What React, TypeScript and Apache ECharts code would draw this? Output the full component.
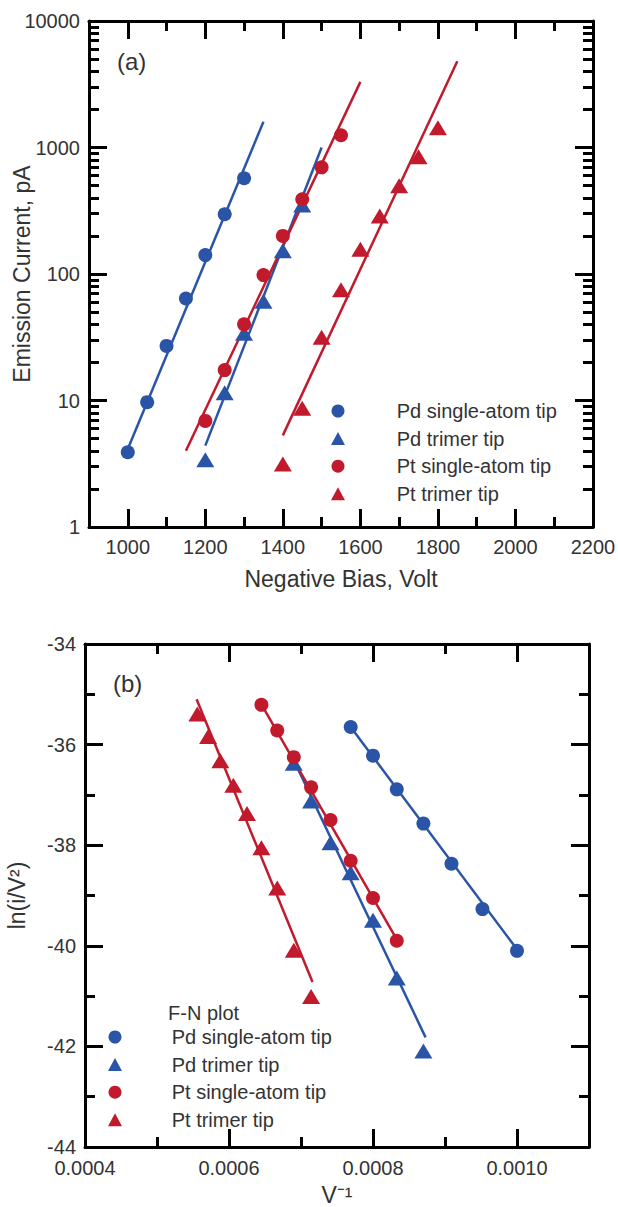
import React, { useEffect, useRef } from 'react';
import * as echarts from 'echarts';

// ---------- Panel (a): emission current vs. negative bias ----------
const pdSingleBias = [1000, 1050, 1100, 1150, 1200, 1250, 1300];
const pdSingleCurrent = [3.9, 9.7, 27, 64, 141, 297, 571];
const pdTrimerBias = [1200, 1250, 1300, 1350, 1400, 1450];
const pdTrimerCurrent = [3.4, 11.5, 34, 61, 153, 351];
const ptSingleBias = [1200, 1250, 1300, 1350, 1400, 1450, 1500, 1550];
const ptSingleCurrent = [6.9, 17.4, 40, 98, 200, 389, 697, 1250];
const ptTrimerBias = [1400, 1450, 1500, 1550, 1600, 1650, 1700, 1750, 1800];
const ptTrimerCurrent = [3.15, 8.7, 31.6, 75, 157, 287, 499, 846, 1435];

// fitted lines (end points)
const pdSingleFitBias = [995, 1350];
const pdSingleFitCurrent = [3.8, 1600];
const pdTrimerFitBias = [1200, 1500];
const pdTrimerFitCurrent = [4.4, 1000];
const ptSingleFitBias = [1150, 1600];
const ptSingleFitCurrent = [4.0, 3300];
const ptTrimerFitBias = [1400, 1850];
const ptTrimerFitCurrent = [5.3, 4800];

const biasMajorTicks = [1000, 1200, 1400, 1600, 1800, 2000, 2200];
const biasMinorTicks = [1100, 1300, 1500, 1700, 1900, 2100];
const currentMajorTicks = [1, 10, 100, 1000, 10000];
const currentMinorTicks = [
  2, 3, 4, 5, 6, 7, 8, 9,
  20, 30, 40, 50, 60, 70, 80, 90,
  200, 300, 400, 500, 600, 700, 800, 900,
  2000, 3000, 4000, 5000, 6000, 7000, 8000, 9000,
];

// ---------- Panel (b): Fowler-Nordheim plot ----------
const pdSingleInvV = [0.000769, 0.0008, 0.000833, 0.00087, 0.000909, 0.000952, 0.001];
const pdSingleFN = [-35.65, -36.22, -36.89, -37.57, -38.37, -39.27, -40.1];
const pdTrimerInvV = [0.00069, 0.000714, 0.000741, 0.000769, 0.0008, 0.000833, 0.00087];
const pdTrimerFN = [-36.37, -37.12, -37.95, -38.55, -39.49, -40.64, -42.09];
const ptSingleInvV = [0.000645, 0.000667, 0.00069, 0.000714, 0.000741, 0.000769, 0.0008, 0.000833];
const ptSingleFN = [-35.21, -35.72, -36.25, -36.85, -37.5, -38.31, -39.05, -39.9];
const ptTrimerInvV = [0.000556, 0.000571, 0.000588, 0.000606, 0.000625, 0.000645, 0.000667, 0.00069, 0.000714];
const ptTrimerFN = [-35.39, -35.84, -36.32, -36.81, -37.37, -38.05, -38.85, -40.09, -41.01];

const pdSingleFitInvV = [0.000769, 0.001];
const pdSingleFitFN = [-35.65, -40.07];
const pdTrimerFitInvV = [0.000688, 0.000873];
const pdTrimerFitFN = [-36.25, -41.82];
const ptSingleFitInvV = [0.000645, 0.000835];
const ptSingleFitFN = [-35.2, -39.92];
const ptTrimerFitInvV = [0.000555, 0.000716];
const ptTrimerFitFN = [-35.1, -40.72];

const invVLabels = [0.0004, 0.0006, 0.0008, 0.001];
const invVMajorTicks = [0.0006, 0.0008, 0.001];
const invVMinorTicks = [0.0005, 0.0007, 0.0009];
const fnLabels = [-44, -42, -40, -38, -36, -34];
const fnMajorTicks = [-42, -40, -38, -36];
const fnMinorTicks = [-43, -41, -39, -37, -35];

const legendNames = ['Pd single-atom tip', 'Pd trimer tip', 'Pt single-atom tip', 'Pt trimer tip'];

// ---------- styles ----------
const FONT = '"Liberation Sans", Arial, sans-serif';
const TEXT = '#333333';
const BLUE = '#2a55a7';
const RED = '#c01a2c';
const AXIS = '#000000';
const TICK_FONT = 20;
const TITLE_FONT = 23;
const LEGEND_FONT = 20;

const zip = (xs: number[], ys: number[]) => xs.map((x, i) => [x, ys[i]]);

type AxisOpts = {
  gridIndex: number;
  type: 'value' | 'log';
  position: string;
  min: number;
  max: number;
  interval?: number;
  showLine: boolean;
  ticks: number[];
  tickLen: number;
  labels?: number[];
  formatter?: (v: number) => string;
  labelMargin?: number;
  name?: string;
  nameGap?: number;
  nameRotate?: number;
};

function makeAxis(o: AxisOpts): any {
  const ax: any = {
    type: o.type,
    gridIndex: o.gridIndex,
    position: o.position,
    min: o.min,
    max: o.max,
    splitLine: { show: false },
    axisLine: { show: o.showLine, onZero: false, lineStyle: { color: AXIS, width: 3 } },
    axisTick: {
      show: true,
      inside: true,
      length: o.tickLen,
      customValues: o.ticks,
      lineStyle: { color: AXIS, width: 3 },
    },
    axisLabel: o.labels
      ? {
          show: true,
          customValues: o.labels,
          formatter: o.formatter,
          margin: o.labelMargin ?? 9,
          color: TEXT,
          fontFamily: FONT,
          fontSize: TICK_FONT,
        }
      : { show: false },
  };
  if (o.interval !== undefined) ax.interval = o.interval;
  if (o.type === 'log') ax.logBase = 10;
  if (o.name) {
    ax.name = o.name;
    ax.nameLocation = 'middle';
    ax.nameGap = o.nameGap;
    ax.nameMoveOverlap = false;
    if (o.nameRotate !== undefined) ax.nameRotate = o.nameRotate;
    ax.nameTextStyle = { color: TEXT, fontFamily: FONT, fontSize: TITLE_FONT };
  }
  return ax;
}

function scatter(name: string, xs: number[], ys: number[], color: string, tri: boolean, xi: number, yi: number) {
  return {
    type: 'scatter',
    name,
    xAxisIndex: xi,
    yAxisIndex: yi,
    data: zip(xs, ys),
    symbol: tri ? 'triangle' : 'circle',
    symbolSize: tri ? [18, 15] : 14,
    itemStyle: { color, opacity: 1 },
    z: 4,
    silent: true,
  };
}

function fit(name: string, xs: number[], ys: number[], color: string, xi: number, yi: number) {
  return {
    type: 'line',
    name,
    xAxisIndex: xi,
    yAxisIndex: yi,
    data: zip(xs, ys),
    showSymbol: false,
    symbol: 'none',
    lineStyle: { color, width: 2.5 },
    itemStyle: { color },
    z: 3,
    silent: true,
  };
}

function legend(left: number, top: number, pad: number) {
  return {
    left,
    top,
    orient: 'vertical',
    padding: 0,
    itemWidth: 14,
    itemHeight: 13,
    itemGap: 7.6,
    selectedMode: false,
    data: legendNames,
    textStyle: {
      color: TEXT,
      fontFamily: FONT,
      fontSize: LEGEND_FONT,
      lineHeight: 20,
      padding: [0, 0, 0, pad],
    },
  };
}

const fmtInt = (v: number) => String(Math.round(v));
const fmtInv = (v: number) => v.toFixed(4);

export default function App() {
  const ref = useRef<HTMLDivElement>(null);

  useEffect(() => {
    if (!ref.current) return;
    const chart = echarts.init(ref.current, undefined, { renderer: 'svg' });

    const xAxis = [
      // panel (a)
      makeAxis({ gridIndex: 0, type: 'value', position: 'bottom', min: 900, max: 2200, interval: 100, showLine: true,
        ticks: biasMajorTicks, tickLen: 18, labels: biasMajorTicks, formatter: fmtInt, labelMargin: 10,
        name: 'Negative Bias, Volt', nameGap: 40 }),
      makeAxis({ gridIndex: 0, type: 'value', position: 'bottom', min: 900, max: 2200, interval: 100, showLine: false,
        ticks: biasMinorTicks, tickLen: 10 }),
      makeAxis({ gridIndex: 0, type: 'value', position: 'top', min: 900, max: 2200, interval: 100, showLine: true,
        ticks: biasMajorTicks, tickLen: 18 }),
      makeAxis({ gridIndex: 0, type: 'value', position: 'top', min: 900, max: 2200, interval: 100, showLine: false,
        ticks: biasMinorTicks, tickLen: 10 }),
      // panel (b)
      makeAxis({ gridIndex: 1, type: 'value', position: 'bottom', min: 0.0004, max: 0.0011, interval: 0.0001, showLine: true,
        ticks: invVMajorTicks, tickLen: 18, labels: invVLabels, formatter: fmtInv, labelMargin: 11,
        name: 'V\u207B\u00B9', nameGap: 36 }),
      makeAxis({ gridIndex: 1, type: 'value', position: 'bottom', min: 0.0004, max: 0.0011, interval: 0.0001, showLine: false,
        ticks: invVMinorTicks, tickLen: 10 }),
      makeAxis({ gridIndex: 1, type: 'value', position: 'top', min: 0.0004, max: 0.0011, interval: 0.0001, showLine: true,
        ticks: invVMajorTicks, tickLen: 18 }),
      makeAxis({ gridIndex: 1, type: 'value', position: 'top', min: 0.0004, max: 0.0011, interval: 0.0001, showLine: false,
        ticks: invVMinorTicks, tickLen: 10 }),
    ];

    const yAxis = [
      // panel (a)
      makeAxis({ gridIndex: 0, type: 'log', position: 'left', min: 1, max: 10000, showLine: true,
        ticks: currentMajorTicks, tickLen: 18, labels: currentMajorTicks, formatter: fmtInt,
        name: 'Emission Current, pA', nameGap: 56, nameRotate: 90 }),
      makeAxis({ gridIndex: 0, type: 'log', position: 'left', min: 1, max: 10000, showLine: false,
        ticks: currentMinorTicks, tickLen: 10 }),
      makeAxis({ gridIndex: 0, type: 'log', position: 'right', min: 1, max: 10000, showLine: true,
        ticks: currentMajorTicks, tickLen: 18 }),
      makeAxis({ gridIndex: 0, type: 'log', position: 'right', min: 1, max: 10000, showLine: false,
        ticks: currentMinorTicks, tickLen: 10 }),
      // panel (b)
      makeAxis({ gridIndex: 1, type: 'value', position: 'left', min: -44, max: -34, interval: 1, showLine: true,
        ticks: fnMajorTicks, tickLen: 18, labels: fnLabels, formatter: fmtInt,
        name: 'ln(i/V\u00B2)', nameGap: 57, nameRotate: 90 }),
      makeAxis({ gridIndex: 1, type: 'value', position: 'left', min: -44, max: -34, interval: 1, showLine: false,
        ticks: fnMinorTicks, tickLen: 10 }),
      makeAxis({ gridIndex: 1, type: 'value', position: 'right', min: -44, max: -34, interval: 1, showLine: true,
        ticks: fnMajorTicks, tickLen: 18 }),
      makeAxis({ gridIndex: 1, type: 'value', position: 'right', min: -44, max: -34, interval: 1, showLine: false,
        ticks: fnMinorTicks, tickLen: 10 }),
    ];

    const series = [
      fit('fit a Pd single', pdSingleFitBias, pdSingleFitCurrent, BLUE, 0, 0),
      fit('fit a Pd trimer', pdTrimerFitBias, pdTrimerFitCurrent, BLUE, 0, 0),
      fit('fit a Pt single', ptSingleFitBias, ptSingleFitCurrent, RED, 0, 0),
      fit('fit a Pt trimer', ptTrimerFitBias, ptTrimerFitCurrent, RED, 0, 0),
      scatter(legendNames[0], pdSingleBias, pdSingleCurrent, BLUE, false, 0, 0),
      scatter(legendNames[1], pdTrimerBias, pdTrimerCurrent, BLUE, true, 0, 0),
      scatter(legendNames[2], ptSingleBias, ptSingleCurrent, RED, false, 0, 0),
      scatter(legendNames[3], ptTrimerBias, ptTrimerCurrent, RED, true, 0, 0),

      fit('fit b Pd single', pdSingleFitInvV, pdSingleFitFN, BLUE, 4, 4),
      fit('fit b Pd trimer', pdTrimerFitInvV, pdTrimerFitFN, BLUE, 4, 4),
      fit('fit b Pt single', ptSingleFitInvV, ptSingleFitFN, RED, 4, 4),
      fit('fit b Pt trimer', ptTrimerFitInvV, ptTrimerFitFN, RED, 4, 4),
      scatter(legendNames[0], pdSingleInvV, pdSingleFN, BLUE, false, 4, 4),
      scatter(legendNames[1], pdTrimerInvV, pdTrimerFN, BLUE, true, 4, 4),
      scatter(legendNames[2], ptSingleInvV, ptSingleFN, RED, false, 4, 4),
      scatter(legendNames[3], ptTrimerInvV, ptTrimerFN, RED, true, 4, 4),
    ];

    chart.setOption({
      animation: false,
      backgroundColor: '#ffffff',
      textStyle: { fontFamily: FONT },
      grid: [
        { left: 89, top: 21, width: 504, height: 506, containLabel: false, outerBoundsMode: 'none' },
        { left: 85, top: 644, width: 504, height: 503, containLabel: false, outerBoundsMode: 'none' },
      ],
      xAxis,
      yAxis,
      legend: [legend(331, 401, 46.7), legend(108, 1027, 44.7)],
      graphic: [
        { type: 'text', x: 117, y: 61, silent: true,
          style: { text: '(a)', fill: TEXT, font: `24px ${FONT}`, align: 'left', verticalAlign: 'middle' } },
        { type: 'text', x: 113, y: 683, silent: true,
          style: { text: '(b)', fill: TEXT, font: `24px ${FONT}`, align: 'left', verticalAlign: 'middle' } },
        { type: 'text', x: 168, y: 1013, silent: true,
          style: { text: 'F-N plot', fill: TEXT, font: `${LEGEND_FONT}px ${FONT}`, align: 'left', verticalAlign: 'middle' } },
      ],
      series,
    });

    return () => chart.dispose();
  }, []);

  return (
    <div
      ref={ref}
      style={{ position: 'absolute', left: 0, top: 0, width: 618, height: 1207, background: '#fff' }}
    />
  );
}
